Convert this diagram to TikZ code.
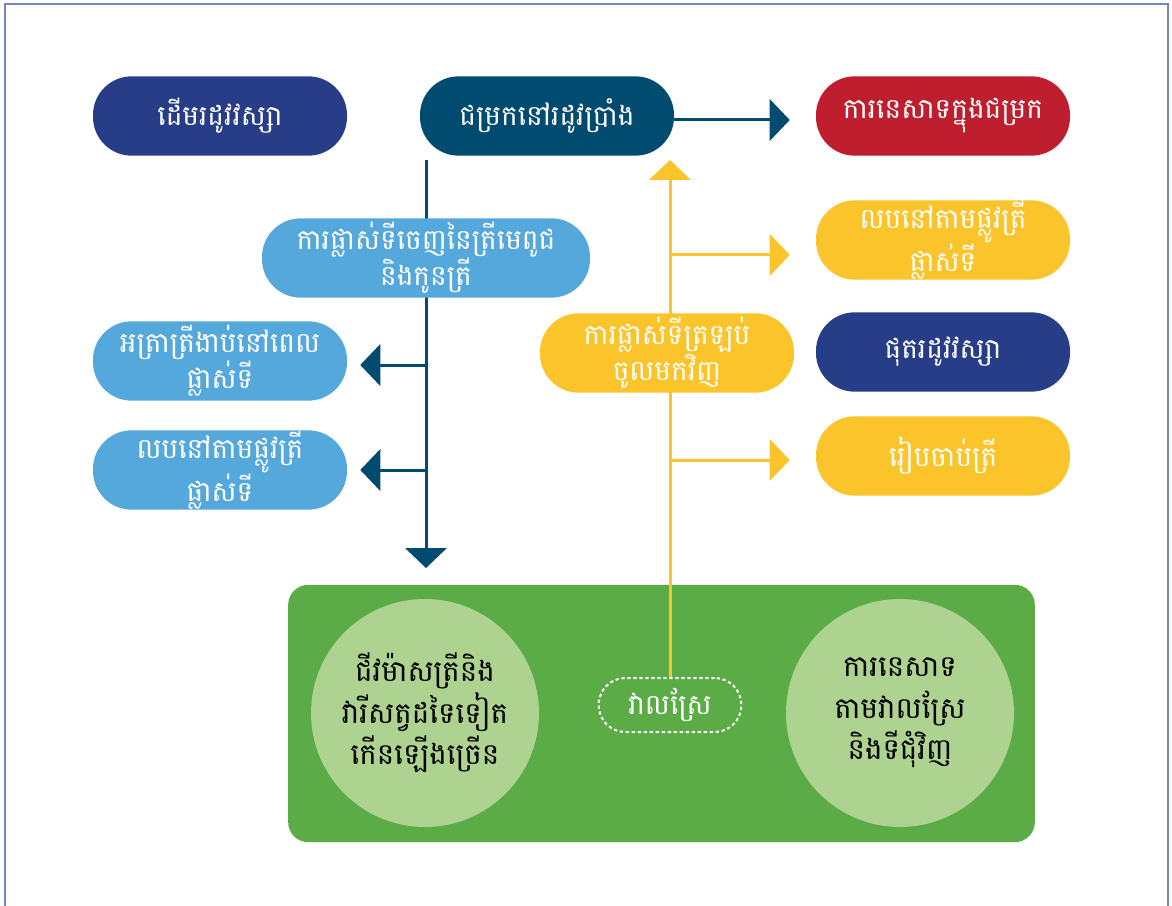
\documentclass[tikz,border=0pt]{standalone}
\usepackage{fontspec}
\newfontfamily\khmer[Script=Khmer]{Battambang}
\usetikzlibrary{positioning,arrows.meta,backgrounds}
\definecolor{wetnavy}{HTML}{283D87}
\definecolor{shelterblue}{HTML}{024B70}
\definecolor{catchred}{HTML}{BE1E2D}
\definecolor{moveblue}{HTML}{55A8DC}
\definecolor{returnyellow}{HTML}{FCC42B}
\definecolor{fieldgreen}{HTML}{5BAB46}
\definecolor{palegreen}{HTML}{AED28F}
\definecolor{framegray}{HTML}{7089C4}

\begin{document}
\begin{tikzpicture}[
  x=0.75pt, y=-0.75pt,
  pill/.style={rounded corners=29pt, minimum width=190.5pt, minimum height=59.5pt, inner sep=0pt, align=center, text=white, font=\khmer\fontsize{21}{27}\selectfont},
  ring/.style={circle, fill=palegreen, minimum size=171pt, inner sep=0pt, align=center, font=\khmer\fontsize{22}{31}\selectfont},
  arr/.style={-{Triangle[length=15pt, width=31pt]}, line width=2.25pt}
]
\useasboundingbox (0,0) rectangle (1172,906);
\draw[framegray, line width=1.5pt] (5,906) -- (5,4) -- (1168,4) -- (1168,906);

% seasons and shelter
\node[pill, fill=wetnavy] (wetstart) at (220,116) {ដើមរដូវវស្សា};
\node[pill, fill=shelterblue] (shelter) at (547,116) {ជម្រកនៅរដូវប្រាំង};
\node[pill, fill=catchred] (catch) at (943,116) {ការនេសាទក្នុងជម្រក};

% leaving the shelter
\node[pill, fill=moveblue, minimum width=246pt] (leave) at (426,258) {ការផ្លាស់ទីចេញនៃត្រីមេពូជ\\និងកូនត្រី};
\node[pill, fill=moveblue] (deaths) at (220,361) {អត្រាត្រីងាប់នៅពេល\\ផ្លាស់ទី};
\node[pill, fill=moveblue] (trapout) at (220,470) {លបនៅតាមផ្លូវត្រី\\ផ្លាស់ទី};

% coming back
\node[pill, fill=returnyellow] (trapin) at (943,240) {លបនៅតាមផ្លូវត្រី\\ផ្លាស់ទី};
\node[pill, fill=returnyellow] (return) at (667,353) {ការផ្លាស់ទីត្រឡប់\\ចូលមកវិញ};
\node[pill, fill=wetnavy] (wetend) at (943,352) {ផុតរដូវវស្សា};
\node[pill, fill=returnyellow] (harvest) at (943,456) {រៀបចាប់ត្រី};

% rice field
\node[ring] (biomass) at (425,713) {ជីវម៉ាសត្រីនិង\\វារីសត្វដទៃទៀត\\កើនឡើងច្រើន};
\node[ring] (fieldcatch) at (900,713) {ការនេសាទ\\តាមវាលស្រែ\\និងទីជុំវិញ};
\node[pill, draw=white, line width=1.5pt, dash pattern=on 2.5pt off 2pt, rounded corners=20pt, minimum width=107pt, minimum height=40.5pt] (field) at (670,705) {វាលស្រែ};

\coordinate (tealtop) at (426,160);
\coordinate (tealend) at (426,568);

\begin{scope}[on background layer]
\node[fill=fieldgreen, rounded corners=15pt, minimum width=560pt, minimum height=193pt] (panel) at (661.5,713.5) {};
\draw[arr, shelterblue, shorten >=19.5pt] ([yshift=-3pt]shelter.east) -- ([yshift=-3pt]catch.west);
\draw[arr, shelterblue] (tealtop) -- (tealend);
\draw[arr, shelterblue, shorten >=9.75pt] (tealtop |- deaths) ++(0,4) coordinate (tealbranch) -- (tealbranch -| deaths.east);
\draw[arr, shelterblue, shorten >=9.75pt] (tealtop |- trapout) -- (trapout.east);
\draw[arr, returnyellow, shorten >=3pt] (field.north) -- (field.north |- shelter.south);
\draw[arr, returnyellow, shorten >=19.5pt] (field.north |- trapin.south) ++(0,-25) coordinate (yelbranch) -- (yelbranch -| trapin.west);
\draw[arr, returnyellow, shorten >=19.5pt] (field.north |- harvest) ++(0,4) coordinate (yelbranchb) -- (yelbranchb -| harvest.west);
\end{scope}
\end{tikzpicture}
\end{document}
